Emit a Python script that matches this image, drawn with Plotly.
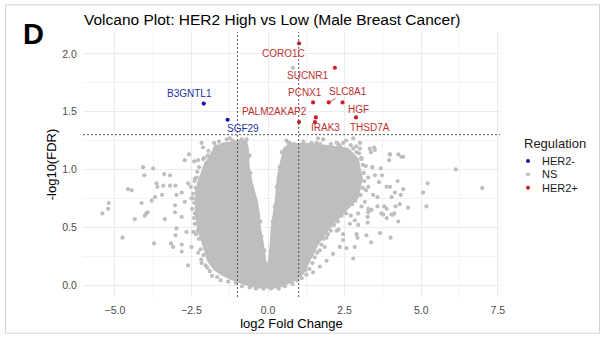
import plotly.graph_objects as go
import math

# ---------------- data ----------------
FC_CUTOFF = 1.0
FDR_CUTOFF = 0.05

# genes higher in HER2-high tumours (None = not labelled)
UP_GENES = ["CORO1C", "SUCNR1", "PCNX1", "SLC8A1", "HGF", "PALM2AKAP2", "IRAK3", None, "THSD7A"]
UP_LOGFC = [1.01, 2.18, 1.47, 1.98, 2.43, 1.01, 1.56, 1.53, 2.87]
UP_NLOGFDR = [2.09, 1.88, 1.58, 1.58, 1.58, 1.41, 1.45, 1.41, 1.45]

# genes higher in HER2-low tumours
DOWN_GENES = ["B3GNTL1", "SGF29"]
DOWN_LOGFC = [-2.10, -1.32]
DOWN_NLOGFDR = [1.57, 1.43]

# non-significant genes outside the dense core
NS_LOGFC = [
    0.81,
    -2.17, -1.76, -2.12, -1.52, -2.72, -2.58, -2.41, -2.28, -2.12, -1.97, -1.82,
    -4.08, -3.75, -4.04, -3.39, -3.20, -4.57, -4.45, -3.64, -3.61, -3.42, -3.20,
    -3.02, -2.61, -2.39, -2.82, -2.99, -3.46, -3.69, -3.80, -4.13, -5.20, -5.22,
    -5.41, -3.93, -3.04, -2.72, -2.50, -2.33, -2.52, -2.23,
    -4.35, -3.97, -4.02, -3.37, -3.04, -2.82, -4.75, -3.72, -2.99, -3.02, -3.17,
    -3.10, -2.82, -2.82, -2.66, -2.44, -2.61, -2.17, -2.28, -2.50,
    3.00, 3.32, 3.46, 3.36, 2.89, 3.05, 3.98, 4.25, 4.41, 3.95, 3.19, 3.40, 3.68,
    2.94, 3.27, 3.49, 3.72, 4.23, 3.62, 3.87, 3.98, 4.41, 5.21, 5.06, 6.13, 6.99,
    4.14, 4.33, 4.03, 3.27, 3.43, 3.57, 3.16, 3.27, 3.38, 3.57, 3.79, 3.87, 4.30,
    4.57, 4.16, 5.17, 3.70, 4.08,
    2.94, 3.27, 3.25, 3.76, 3.87, 4.03, 4.12, 4.25, 3.25, 2.94, 2.89, 2.92, 3.21,
    3.65, 4.00, 3.36, 2.83,
    2.78, 2.56, 2.34, 2.12, 1.91, 1.69, 1.47, 2.24, 2.45, 2.67, 2.83, 1.91, 1.69, 2.45,
    -0.86, -0.70, 0.66, 1.42, 1.58, 2.24, 2.45, 1.04, 1.91, 2.78, 1.63, 2.78,
    0.71, 1.58, 2.29, 3.00, 3.49, 3.97, 4.35,
    # fringe of the left lobe
    -2.08, -2.25, -2.31, -2.40, -2.36, -2.45, -2.41, -2.48, -2.42, -2.39, -2.35,
    -2.26, -2.20, -2.11, -2.04, -1.90, -1.83, -1.66, -1.55, -2.33, -2.46, -2.39,
    -2.30, -2.18, -1.98,
    # bottom of the volcano
    -1.30, -1.05, -0.85, -0.60, -0.40, -0.15, 0.10, 0.35, 0.55, 0.80, 0.95, 1.10,
    1.25, 1.22,
    # fringe of the right lobe
    1.35, 1.45, 1.52, 1.60, 1.74, 1.80, 1.95, 2.05, 2.15, 2.28, 2.40, 2.55, 2.62,
    2.75, 2.85, 3.02, 3.10, 3.14, 3.12, 3.09, 3.04, 2.97, 2.88, 2.70, 1.50, 1.85,
    2.30, 2.70, 3.05, 3.20,
    # top of both lobes and the inner gap
    -1.95, -1.70, -1.60, -1.40, -1.25, -1.15, -0.95, -0.78, -1.35,
    -0.60, -0.58, -0.50, -0.42, -0.25, -0.22, -0.12, -0.03, 0.00, -0.02,
    0.45, 0.38, 0.28, 0.22, 0.15,
    0.60, 0.85, 1.15, 1.25, 1.70, 1.80, 2.05, 2.35, 2.55,
]
NS_NLOGFDR = [
    1.88,
    1.23, 1.23, 1.19, 1.18, 1.08, 1.13, 1.07, 1.08, 1.09, 1.12, 1.12,
    1.02, 1.01, 0.95, 0.96, 0.95, 0.83, 0.82, 0.88, 0.85, 0.86, 0.86,
    0.86, 0.88, 0.92, 0.80, 0.78, 0.78, 0.76, 0.73, 0.71, 0.71, 0.66,
    0.62, 0.63, 0.69, 0.72, 0.75, 0.80, 0.85, 0.88,
    0.57, 0.62, 0.60, 0.57, 0.63, 0.59, 0.41, 0.36, 0.49, 0.43, 0.36,
    0.33, 0.35, 0.29, 0.46, 0.46, 0.17, 0.19, 0.28, 0.33,
    1.18, 1.18, 1.19, 1.15, 1.15, 1.09, 1.13, 1.13, 1.11, 1.08, 1.03, 1.02, 1.01,
    0.96, 0.93, 0.95, 0.95, 0.90, 0.89, 0.85, 0.85, 0.83, 0.88, 0.80, 1.00, 0.84,
    0.80, 0.78, 0.76, 0.85, 0.78, 0.76, 0.72, 0.66, 0.65, 0.68, 0.68, 0.66, 0.70,
    0.67, 0.68, 0.68, 0.62, 0.61,
    0.62, 0.63, 0.59, 0.61, 0.58, 0.61, 0.62, 0.55, 0.54, 0.52, 0.44, 0.41, 0.43,
    0.45, 0.41, 0.37, 0.33,
    0.23, 0.32, 0.33, 0.27, 0.21, 0.16, 0.11, 0.47, 0.44, 0.53, 0.56, 0.41, 0.30, 0.39,
    1.26, 1.26, 1.23, 1.23, 1.23, 1.23, 1.23, 1.20, 1.19, 1.18, 1.27, 1.27,
    1.23, 1.20, 1.22, 1.23, 1.17, 1.13, 1.11,
    1.10, 1.02, 0.98, 0.90, 0.84, 0.79, 0.71, 0.66, 0.58, 0.53, 0.44,
    0.40, 0.31, 0.26, 0.17, 0.12, 0.08, 0.07, 0.04, 0.93, 0.75, 0.62,
    0.47, 0.22, 0.15,
    0.03, 0.02, -0.01, -0.02, -0.03, -0.03, -0.03, -0.03, -0.01, 0.01, 0.04, 0.06,
    0.09, 0.13,
    0.14, 0.19, 0.24, 0.28, 0.35, 0.40, 0.44, 0.47, 0.52, 0.55, 0.60, 0.62, 0.68,
    0.70, 0.73, 0.78, 0.84, 0.90, 0.97, 1.04, 1.10, 1.14, 1.20, 1.21, 0.31, 0.33,
    0.48, 0.60, 0.68, 0.82,
    1.16, 1.20, 1.24, 1.22, 1.27, 1.25, 1.24, 1.22, 1.26,
    1.12, 0.97, 0.82, 0.70, 0.55, 0.42, 0.30, 0.18, 0.10, 0.05,
    1.15, 1.02, 0.85, 0.68, 0.55,
    1.25, 1.22, 1.24, 1.20, 1.22, 1.26, 1.22, 1.20, 1.25,
]

# outline of the saturated mass of non-significant genes
CORE_LOGFC = [
    -1.80, -1.51, -1.08, -0.72,
    -0.66, -0.63, -0.53, -0.37, -0.30, -0.27, -0.17, -0.10, -0.06, 0.00,
    0.03, 0.09, 0.12, 0.19, 0.25, 0.32, 0.45, 0.52, 0.71,
    1.37, 2.02, 2.60,
    2.93, 3.06, 2.93, 2.51, 2.02, 1.63, 1.36, 1.14, 0.78, 0.32,
    -0.33, -0.76, -1.18, -1.51, -1.77,
    -1.96, -2.13, -2.29, -2.36, -2.36, -2.29, -2.19, -2.03,
]
CORE_NLOGFDR = [
    1.18, 1.22, 1.24, 1.25,
    1.18, 1.02, 0.88, 0.73, 0.62, 0.50, 0.36, 0.21, 0.15, 0.15,
    0.21, 0.36, 0.50, 0.64, 0.73, 0.94, 1.09, 1.18, 1.22,
    1.22, 1.20, 1.18,
    1.09, 0.92, 0.76, 0.64, 0.50, 0.36, 0.21, 0.10, 0.03, -0.02,
    -0.02, 0.01, 0.05, 0.09, 0.14,
    0.21, 0.36, 0.49, 0.62, 0.75, 0.88, 0.96, 1.07,
]

LEGEND_TITLE = "Regulation"
LEGEND_LABELS = ["HER2-", "NS", "HER2+"]

# ---------------- styling ----------------
FONT = "Liberation Sans, Arial, sans-serif"
GREY = "#BEBEBE"
RED = "#C8202A"
BLUE = "#16169C"
RED_TXT = "#C0302F"
BLUE_TXT = "#2630A8"
COLORS = {"HER2-": BLUE, "NS": GREY, "HER2+": RED}
GUIDE = dict(color="#555555", width=1, dash="2px,2px")

# label offsets in screen pixels (dx right, dy down)
LABEL_OFFSETS = {
    "CORO1C": (-16, 10), "SUCNR1": (-27, 8), "PCNX1": (-8, -10),
    "SLC8A1": (19, -11), "HGF": (16, 7), "PALM2AKAP2": (-25, -11),
    "IRAK3": (10, 10), "THSD7A": (14, 10), "B3GNTL1": (-14, -10),
    "SGF29": (15, 9),
}

W, H = 605, 341
ML, MR, MT, MB = 83, 105, 32, 42
PW, PH = W - ML - MR, H - MT - MB

fig = go.Figure()

fig.add_trace(go.Scatter(
    x=CORE_LOGFC, y=CORE_NLOGFDR, mode="lines", fill="toself",
    fillcolor=GREY, line=dict(color=GREY, width=2), hoverinfo="skip",
    showlegend=False,
))
fig.add_trace(go.Scatter(
    x=NS_LOGFC, y=NS_NLOGFDR, mode="markers", name="NS",
    marker=dict(color=GREY, size=4.2, line=dict(width=0)), showlegend=False,
))
fig.add_trace(go.Scatter(
    x=DOWN_LOGFC, y=DOWN_NLOGFDR, mode="markers", name="HER2-",
    marker=dict(color=BLUE, size=4.2, line=dict(width=0)), showlegend=False,
))
fig.add_trace(go.Scatter(
    x=UP_LOGFC, y=UP_NLOGFDR, mode="markers", name="HER2+",
    marker=dict(color=RED, size=4.2, line=dict(width=0)), showlegend=False,
))

# threshold lines
fdr_line = -math.log10(FDR_CUTOFF)
for xv in (-FC_CUTOFF, FC_CUTOFF):
    fig.add_shape(type="line", xref="x", yref="paper", x0=xv, x1=xv, y0=0, y1=1,
                  line=GUIDE)
fig.add_shape(type="line", xref="paper", yref="y", x0=0, x1=1, y0=fdr_line, y1=fdr_line,
              line=GUIDE)

# gene labels
def add_labels(genes, xs, ys, color):
    for g, xv, yv in zip(genes, xs, ys):
        if g is None:
            continue
        dx, dy = LABEL_OFFSETS[g]
        common = dict(x=xv, y=yv, xref="x", yref="y", text=g,
                      font=dict(family=FONT, size=10, color=color))
        if g == "SLC8A1":
            fig.add_annotation(**common, showarrow=True, arrowhead=0, arrowwidth=0.8,
                               arrowcolor=color, ax=dx, ay=dy, standoff=1)
        else:
            fig.add_annotation(**common, showarrow=False, xshift=dx, yshift=-dy)

add_labels(UP_GENES, UP_LOGFC, UP_NLOGFDR, RED_TXT)
add_labels(DOWN_GENES, DOWN_LOGFC, DOWN_NLOGFDR, BLUE_TXT)

# legend (drawn by hand to keep ggplot-like compact spacing)
def px_to_paper(px, py):
    return (px - ML) / PW, (H - MB - py) / PH

tx, ty = px_to_paper(522, 144)
fig.add_annotation(x=tx, y=ty, xref="paper", yref="paper", text=LEGEND_TITLE,
                   showarrow=False, xanchor="left", yanchor="middle",
                   font=dict(family=FONT, size=13, color="#1A1A1A"))
for i, lab in enumerate(LEGEND_LABELS):
    py = 162 + i * 13.5
    dxp, dyp = px_to_paper(528, py)
    fig.add_shape(type="circle", xref="paper", yref="paper",
                  xsizemode="pixel", ysizemode="pixel", xanchor=dxp, yanchor=dyp,
                  x0=-2, x1=2, y0=-2, y1=2,
                  fillcolor=COLORS[lab], line=dict(width=0))
    lx, ly = px_to_paper(540, py)
    fig.add_annotation(x=lx, y=ly, xref="paper", yref="paper", text=lab,
                       showarrow=False, xanchor="left", yanchor="middle",
                       font=dict(family=FONT, size=11, color="#1A1A1A"))

# panel letter
dx_, dy_ = px_to_paper(33, 34)
fig.add_annotation(x=dx_, y=dy_, xref="paper", yref="paper", text="<b>D</b>",
                   showarrow=False, xanchor="center", yanchor="middle",
                   font=dict(family=FONT, size=29, color="#000000"))

# thin frame around the figure
fx0, fy0 = px_to_paper(5.5, 335.5)
fx1, fy1 = px_to_paper(599.5, 4.5)
fig.add_shape(type="rect", xref="paper", yref="paper", x0=fx0, x1=fx1, y0=fy0, y1=fy1,
              line=dict(color="#D4D4D4", width=1), fillcolor="rgba(0,0,0,0)")

axis_common = dict(
    showline=False, zeroline=False, ticks="outside", ticklen=3,
    tickcolor="rgba(0,0,0,0)", gridcolor="#EBEBEB", gridwidth=1,
    tickfont=dict(family=FONT, size=10.5, color="#4D4D4D"), tickformat=".1f",
    title_font=dict(family=FONT, size=13, color="#000000"),
    minor=dict(showgrid=True, gridcolor="#F3F3F3", gridwidth=1),
)

fig.update_layout(
    width=W, height=H,
    margin=dict(l=ML, r=MR, t=MT, b=MB),
    paper_bgcolor="white", plot_bgcolor="white",
    showlegend=False,
    title=dict(text="Volcano Plot: HER2 High vs Low (Male Breast Cancer)",
               x=84 / W, xanchor="left", xref="container",
               y=1 - 20 / H, yanchor="middle",
               font=dict(family=FONT, size=15.5, color="#000000")),
    xaxis=dict(range=[-6.04, 7.57], tick0=0, dtick=2.5,
               title=dict(text="log2 Fold Change", standoff=4), **axis_common),
    yaxis=dict(range=[-0.103, 2.189], tick0=0, dtick=0.5,
               title=dict(text="-log10(FDR)", standoff=2), **axis_common),
)
fig.update_xaxes(minor=dict(dtick=1.25, tick0=1.25))
fig.update_yaxes(minor=dict(dtick=0.25, tick0=0.25))

fig.write_html("out.html")
